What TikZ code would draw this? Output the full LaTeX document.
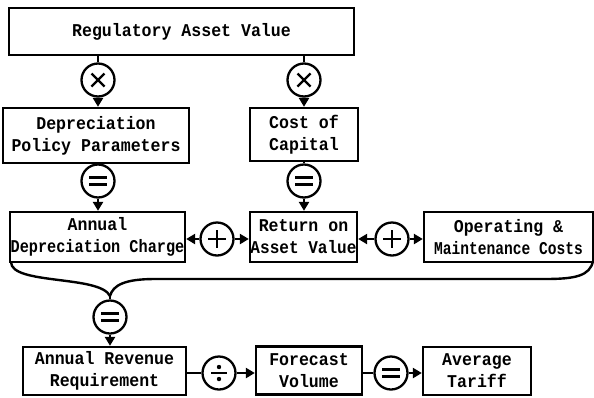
\documentclass[tikz,border=0pt]{standalone}
\usepackage{fontspec}
\usepackage{graphicx}
\usetikzlibrary{arrows.meta}
\newfontfamily\boxfont[FakeStretch=0.92]{Liberation Mono}
\newcommand{\narrow}[2]{\scalebox{#1}[1]{#2}}
\begin{document}
\begin{tikzpicture}[x=1pt,y=-1pt,
  box/.style={draw, line width=2.3pt, align=center, inner sep=0pt,
    font=\boxfont\bfseries\fontsize{18}{22}\selectfont},
  op/.style={draw, circle, line width=2.3pt, minimum size=33pt, inner sep=0pt},
  sym/.style={line width=2.4pt},
  timesop/.style={op, path picture={
    \draw[sym] ([shift={(-6.5,-6.5)}]path picture bounding box.center) -- ++(13,13);
    \draw[sym] ([shift={(-6.5,6.5)}]path picture bounding box.center) -- ++(13,-13);}},
  plusop/.style={op, path picture={
    \draw[sym] ([shift={(-9,0)}]path picture bounding box.center) -- ++(18,0);
    \draw[sym] ([shift={(0,-9)}]path picture bounding box.center) -- ++(0,18);}},
  eqop/.style={op, path picture={
    \draw[line width=2.8pt] ([shift={(-9,-3.3)}]path picture bounding box.center) -- ++(18,0);
    \draw[line width=2.8pt] ([shift={(-9,3.3)}]path picture bounding box.center) -- ++(18,0);}},
  divop/.style={op, path picture={
    \draw[sym] ([shift={(-8,0)}]path picture bounding box.center) -- ++(16,0);
    \fill ([shift={(0,-6)}]path picture bounding box.center) circle (2.2pt);
    \fill ([shift={(0,6)}]path picture bounding box.center) circle (2.2pt);}},
  link/.style={line width=2.4pt},
  arr/.style={line width=2.4pt, -{Triangle[length=9pt,width=10pt]}}
]
\useasboundingbox (0,0) rectangle (594,397);

% boxes
\node[box, minimum width=345pt, minimum height=47pt] (rav) at (181.5,31.5) {Regulatory Asset Value};
\node[box, minimum width=186pt, minimum height=55pt] (dpp) at (96,135.5) {Depreciation\\Policy Parameters};
\node[box, minimum width=108pt, minimum height=53pt] (coc) at (304,134.5) {Cost of\\Capital};
\node[box, minimum width=175pt, minimum height=50pt] (adc) at (97.5,237) {Annual\\\narrow{0.92}{Depreciation Charge}};
\node[box, minimum width=107pt, minimum height=50pt] (roa) at (303.5,237) {Return on\\\narrow{0.97}{Asset Value}};
\node[box, minimum width=169pt, minimum height=50pt] (omc) at (508.5,237) {Operating \&\\\narrow{0.88}{Maintenance Costs}};
\node[box, minimum width=163pt, minimum height=48pt] (arq) at (104.5,371) {Annual Revenue\\Requirement};
\node[box, minimum width=106pt, minimum height=48pt] (fv) at (309,370.5) {Forecast\\Volume};
\node[box, minimum width=108pt, minimum height=48pt] (tar) at (477,371) {Average\\Tariff};

% operators
\node[timesop] (x1) at (98,80) {};
\node[timesop] (x2) at (304,80) {};
\node[eqop] (e1) at (98,181) {};
\node[eqop] (e2) at (304,181) {};
\node[plusop] (p1) at (217,239) {};
\node[plusop] (p2) at (392,239) {};
\node[eqop] (e3) at (110,317) {};
\node[divop] (d1) at (219,373) {};
\node[eqop] (e4) at (391,373) {};

% top chain
\draw[link] (x1.north |- rav.south) -- (x1.north);
\draw[link] (x2.north |- rav.south) -- (x2.north);
\draw[arr] (x1.south) -- (x1.south |- dpp.north);
\draw[arr] (x2.south) -- (x2.south |- coc.north);
\draw[link] (e1.north |- dpp.south) -- (e1.north);
\draw[link] (e2.north |- coc.south) -- (e2.north);
\draw[arr] (e1.south) -- (e1.south |- adc.north);
\draw[arr] (e2.south) -- (e2.south |- roa.north);

% sums
\draw[arr] (p1.west) -- (p1.west -| adc.east);
\draw[arr] (p1.east) -- (p1.east -| roa.west);
\draw[arr] (p2.west) -- (p2.west -| roa.east);
\draw[arr] (p2.east) -- (p2.east -| omc.west);

% merging curves
\coordinate (merge) at (110,296);
\coordinate (adcfoot) at (11,262);
\coordinate (omcfoot) at (593,261);
\draw[link] (adcfoot) .. controls (11,285) and (100,275) .. (merge);
\draw[link] (omcfoot) .. controls (590,276) and (575,279) .. (545,279)
  -- (155,279) .. controls (125,279) and (113,285) .. (merge);
\draw[link] (merge) -- (e3.north);
\draw[arr] (e3.south) -- (e3.south |- arq.north);

% bottom chain
\draw[link] (arq.east |- d1.west) -- (d1.west);
\draw[arr] (d1.east) -- (d1.east -| fv.west);
\draw[link] (fv.east |- e4.west) -- (e4.west);
\draw[arr] (e4.east) -- (e4.east -| tar.west);
\end{tikzpicture}
\end{document}
